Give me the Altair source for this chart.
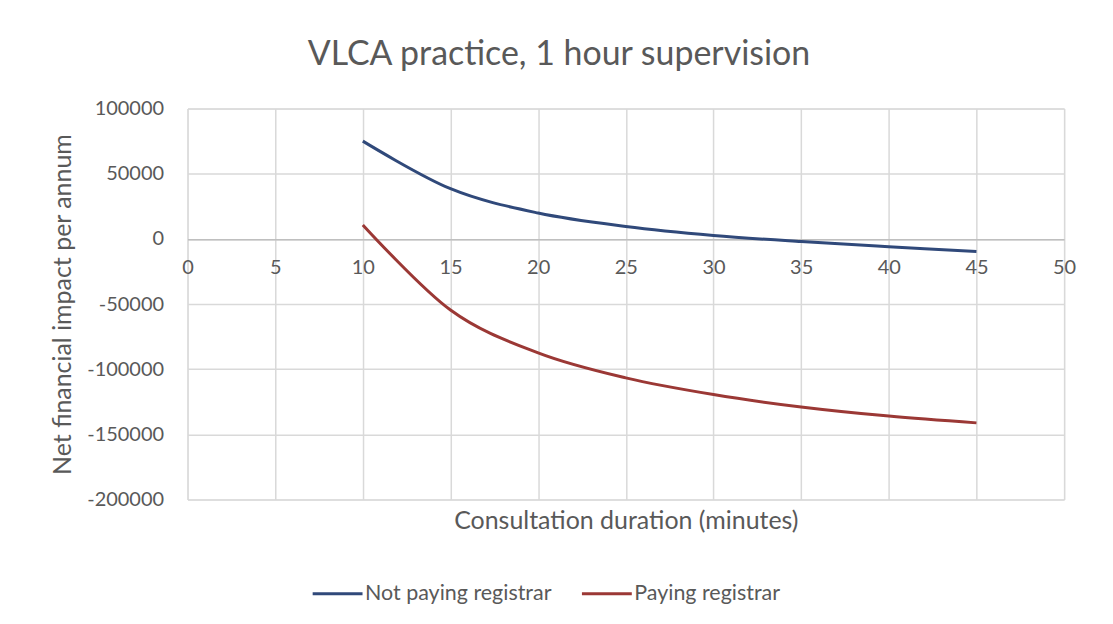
import altair as alt
import pandas as pd

minutes = [10, 15, 20, 25, 30, 35, 40, 45]
not_paying = [75000, 38500, 19800, 9500, 2600, -2100, -6000, -9600]
paying = [10700, -54600, -87500, -106700, -119500, -129000, -136000, -141200]
series_names = ["Not paying registrar", "Paying registrar"]
series_colors = ["#30497A", "#9B3835"]
x_ticks = [0, 5, 10, 15, 20, 25, 30, 35, 40, 45, 50]
y_ticks = [-200000, -150000, -100000, -50000, 0, 50000, 100000]

rows = []
for m, v in zip(minutes, not_paying):
    rows.append({"minutes": m, "value": v, "series": series_names[0]})
for m, v in zip(minutes, paying):
    rows.append({"minutes": m, "value": v, "series": series_names[1]})
df = pd.DataFrame(rows)

FONT = "Lato"
TXT = "#595959"
W, H = 879, 392
ZERO_FROM_BOTTOM = 261

xscale = alt.Scale(domain=[0, 50], nice=False, zero=False)
yscale = alt.Scale(domain=[-200000, 100000], nice=False)

lines = alt.Chart(df).mark_line(strokeWidth=3, interpolate="cardinal").encode(
    x=alt.X("minutes:Q", scale=xscale,
            axis=alt.Axis(values=x_ticks, title=None, orient="bottom", offset=-ZERO_FROM_BOTTOM,
                          grid=True, gridColor="#d9d9d9", gridWidth=1.5,
                          domain=True, domainColor="#bfbfbf", domainWidth=1.5,
                          ticks=False, labelPadding=18, labelFontSize=20,
                          labelColor=TXT, labelFont=FONT, labelFlush=False)),
    y=alt.Y("value:Q", scale=yscale,
            axis=alt.Axis(values=y_ticks, title="Net financial impact per annum",
                          grid=True, gridColor="#d9d9d9", gridWidth=1.5,
                          domain=False, ticks=False, labelPadding=24,
                          labelFontSize=20, labelColor=TXT, labelFont=FONT,
                          labelExpr="datum.value + ''",
                          titleFontSize=25, titleFont=FONT, titleColor=TXT,
                          titleFontWeight="normal", titlePadding=11)),
    color=alt.Color("series:N", scale=alt.Scale(domain=series_names, range=series_colors),
                    legend=alt.Legend(title=None, orient="none", direction="horizontal",
                                      legendX=124, legendY=460,
                                      symbolType="stroke", symbolSize=2500,
                                      symbolStrokeWidth=3, labelFontSize=21.5,
                                      labelFont=FONT, labelColor=TXT, labelLimit=400,
                                      labelOffset=1, columnPadding=24)),
)

title_layer = alt.Chart(df).mark_point(opacity=0).encode(
    x=alt.X("minutes:Q", scale=xscale,
            axis=alt.Axis(title="Consultation duration (minutes)", orient="bottom",
                          domain=False, labels=False, ticks=False, grid=False,
                          titleFontSize=25, titleFont=FONT, titleColor=TXT,
                          titleFontWeight="normal", titlePadding=9)),
    y=alt.Y("value:Q", scale=yscale),
)

chart = alt.layer(lines, title_layer).resolve_axis(x="independent").properties(
    width=W, height=H,
    autosize=alt.AutoSizeParams(type="none"),
    padding={"left": 180, "top": 100, "right": 41, "bottom": 124},
    title=alt.TitleParams("VLCA practice, 1 hour supervision", fontSize=34, font=FONT,
                          color=TXT, fontWeight="normal", anchor="middle", dx=-67,
                          offset=27),
).configure_view(stroke=None).configure(background="white")

chart.save("out.html", embed_options={"renderer": "svg", "actions": False})
